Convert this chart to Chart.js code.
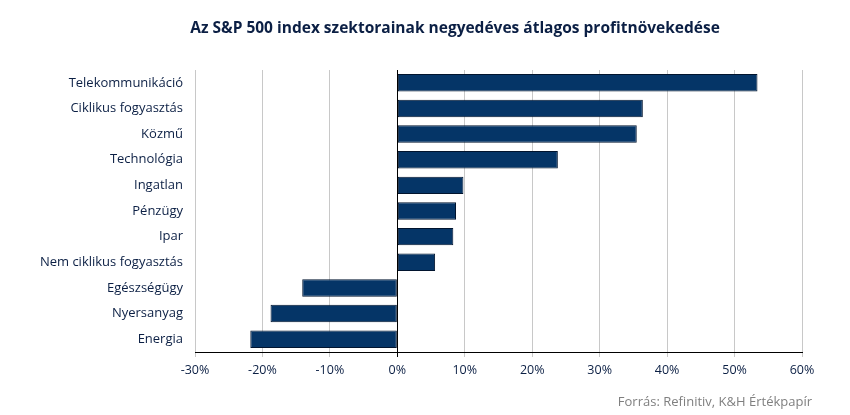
<!DOCTYPE html>
<html>
<head>
<meta charset="utf-8">
<script src="https://cdn.jsdelivr.net/npm/chart.js@4"></script>
<style>
html,body{margin:0;padding:0;background:#fff;}
#wrap{width:850px;height:415px;position:relative;}
</style>
</head>
<body>
<div id="wrap"><canvas id="c"></canvas></div>
<script>
const categories = ["Telekommunikáció","Ciklikus fogyasztás","Közmű","Technológia","Ingatlan","Pénzügy","Ipar","Nem ciklikus fogyasztás","Egészségügy","Nyersanyag","Energia"];
const growth = [53.4, 36.4, 35.5, 23.8, 9.8, 8.7, 8.3, 5.6, -14.1, -18.8, -21.8];
const xMin = -30, xMax = 60, xStep = 10;
const titleText = "Az S&P 500 index szektorainak negyedéves átlagos profitnövekedése";
const sourceText = "Forrás: Refinitiv, K&H Értékpapír";

const textPlugin = {
  id: 'textPlugin',
  afterDraw(chart) {
    const ctx = chart.ctx;
    ctx.save();
    ctx.font = 'bold 15.5px "Open Sans"';
    ctx.fillStyle = '#0b1f44';
    ctx.textAlign = 'center';
    ctx.textBaseline = 'middle';
    ctx.fillText(titleText, 455, 29);
    ctx.font = '13px "Open Sans"';
    ctx.fillStyle = '#7f7f7f';
    ctx.textAlign = 'right';
    ctx.fillText(sourceText, 812, 402);
    ctx.restore();
  }
};

new Chart(document.getElementById('c'), {
  type: 'bar',
  data: {
    labels: categories,
    datasets: [{
      data: growth,
      backgroundColor: '#053567',
      borderColor: '#01142e',
      borderWidth: 1,
      borderSkipped: false,
      barPercentage: 0.68,
      categoryPercentage: 1.0
    }]
  },
  options: {
    indexAxis: 'y',
    responsive: true,
    maintainAspectRatio: false,
    animation: false,
    layout: { padding: { left: 0, right: 48, top: 70, bottom: 0 } },
    plugins: {
      legend: { display: false },
      tooltip: { enabled: false },
      title: { display: false }
    },
    scales: {
      x: {
        min: xMin, max: xMax,
        ticks: {
          stepSize: xStep,
          color: '#0b1f44',
          font: { family: '"Open Sans"', size: 12.5 },
          padding: 6,
          callback: v => v + '%'
        },
        grid: {
          color: ctx => (ctx.tick && ctx.tick.value === 0) ? '#000000' : '#c8c8c8',
          lineWidth: 1,
          tickLength: 5
        },
        border: { display: true, color: '#000000', width: 1 },
        afterFit: s => { s.height = 63; }
      },
      y: {
        ticks: {
          color: '#0b1f44',
          font: { family: '"Open Sans"', size: 13 },
          padding: 12
        },
        grid: { display: false, drawTicks: false },
        border: { display: false },
        afterFit: s => { s.width = 195; }
      }
    }
  },
  plugins: [textPlugin]
});
</script>
</body>
</html>
